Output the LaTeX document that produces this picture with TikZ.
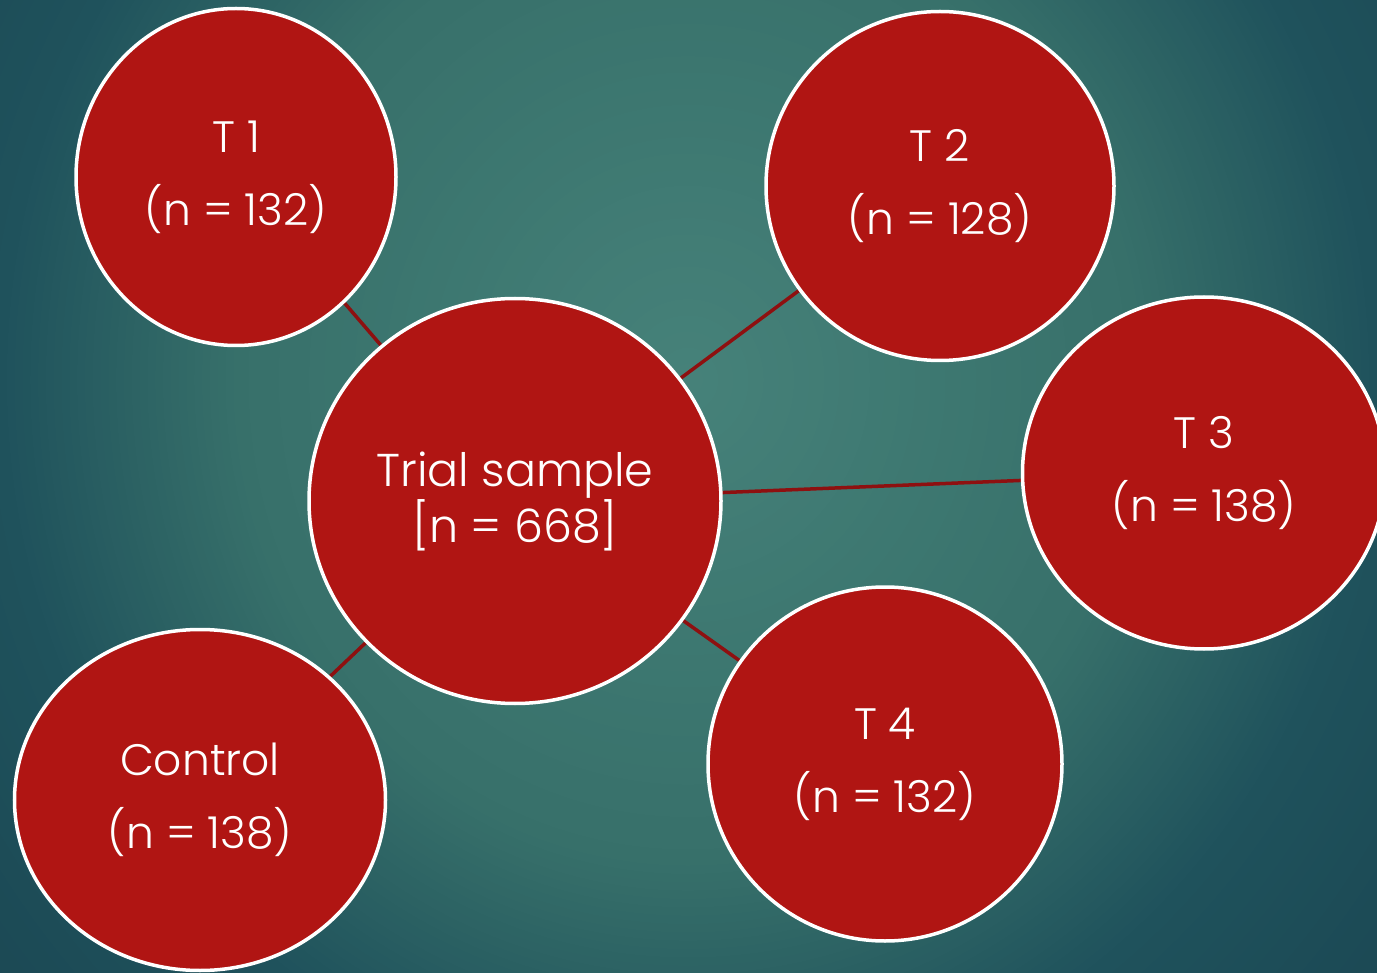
\documentclass[tikz,border=0pt]{standalone}
\usepackage{fontspec}
\IfFontExistsTF{Poppins Light}{\setmainfont{Poppins Light}}{\setmainfont{Poppins}}
\usetikzlibrary{shapes.geometric}
\definecolor{bgc}{HTML}{46827A}
\definecolor{bgm}{HTML}{37706A}
\definecolor{bgo}{HTML}{1F525C}
\definecolor{bge}{HTML}{1A4652}
\definecolor{bubble}{HTML}{B01513}
\definecolor{linkc}{HTML}{8E1010}
\pgfdeclarelayer{back}
\pgfdeclarelayer{mid}
\pgfsetlayers{back,mid,main}
\tikzset{
  bub/.style={ellipse, fill=bubble, draw=white, line width=3.5pt, inner sep=0pt, text=white, align=center, font=\fontsize{44}{73}\selectfont},
  link/.style={draw=linkc, line width=3.5pt},
}
\begin{document}
\begin{tikzpicture}[x=1pt,y=-1pt]
\begin{pgfonlayer}{back}
\begin{scope}
\clip (0,0) rectangle (1377,973);
\fill[bge] (0,0) rectangle (1377,973);
\foreach \i in {30,...,1}{
  \pgfmathsetmacro\d{1+0.4*\i/30}
  \pgfmathsetmacro\p{100*\i/30}
  \fill[bge!\p!bgo] (688,380) ellipse [x radius=689*\d, y radius=736*\d];
}
\foreach \i in {30,...,1}{
  \pgfmathsetmacro\d{0.66+0.34*\i/30}
  \pgfmathsetmacro\p{100*\i/30}
  \fill[bgo!\p!bgm] (688,380) ellipse [x radius=689*\d, y radius=736*\d];
}
\foreach \i in {30,...,1}{
  \pgfmathsetmacro\d{0.66*\i/30}
  \pgfmathsetmacro\p{100*\i/30}
  \fill[bgm!\p!bgc] (688,380) ellipse [x radius=689*\d, y radius=736*\d];
}
\end{scope}
\end{pgfonlayer}
\useasboundingbox (0,0) rectangle (1377,973);
\node[bub, minimum width=320pt, minimum height=337pt] (t1) at (236,177) {T 1\\(n = 132)};
\node[bub, minimum width=348pt, minimum height=349pt] (t2) at (940,186) {T 2\\(n = 128)};
\node[bub, minimum width=363pt, minimum height=352pt] (t3) at (1204,473) {T 3\\(n = 138)};
\node[bub, minimum width=354pt, minimum height=354pt] (t4) at (885,764) {T 4\\(n = 132)};
\node[bub, minimum width=371pt, minimum height=341pt] (ctrl) at (200,800) {Control\\(n = 138)};
\node[bub, minimum width=412pt, minimum height=405pt, font=\fontsize{46}{56}\selectfont] (trial) at (515,501) {Trial sample\\{}[n = 668]};
\begin{pgfonlayer}{mid}
\draw[link] (t1.center) -- (trial.center);
\draw[link] (t2.center) -- (trial.center);
\draw[link] (t3.center) -- (trial.center);
\draw[link] (t4.center) -- (trial.center);
\draw[link] (ctrl.center) -- (trial.center);
\end{pgfonlayer}
\end{tikzpicture}
\end{document}
